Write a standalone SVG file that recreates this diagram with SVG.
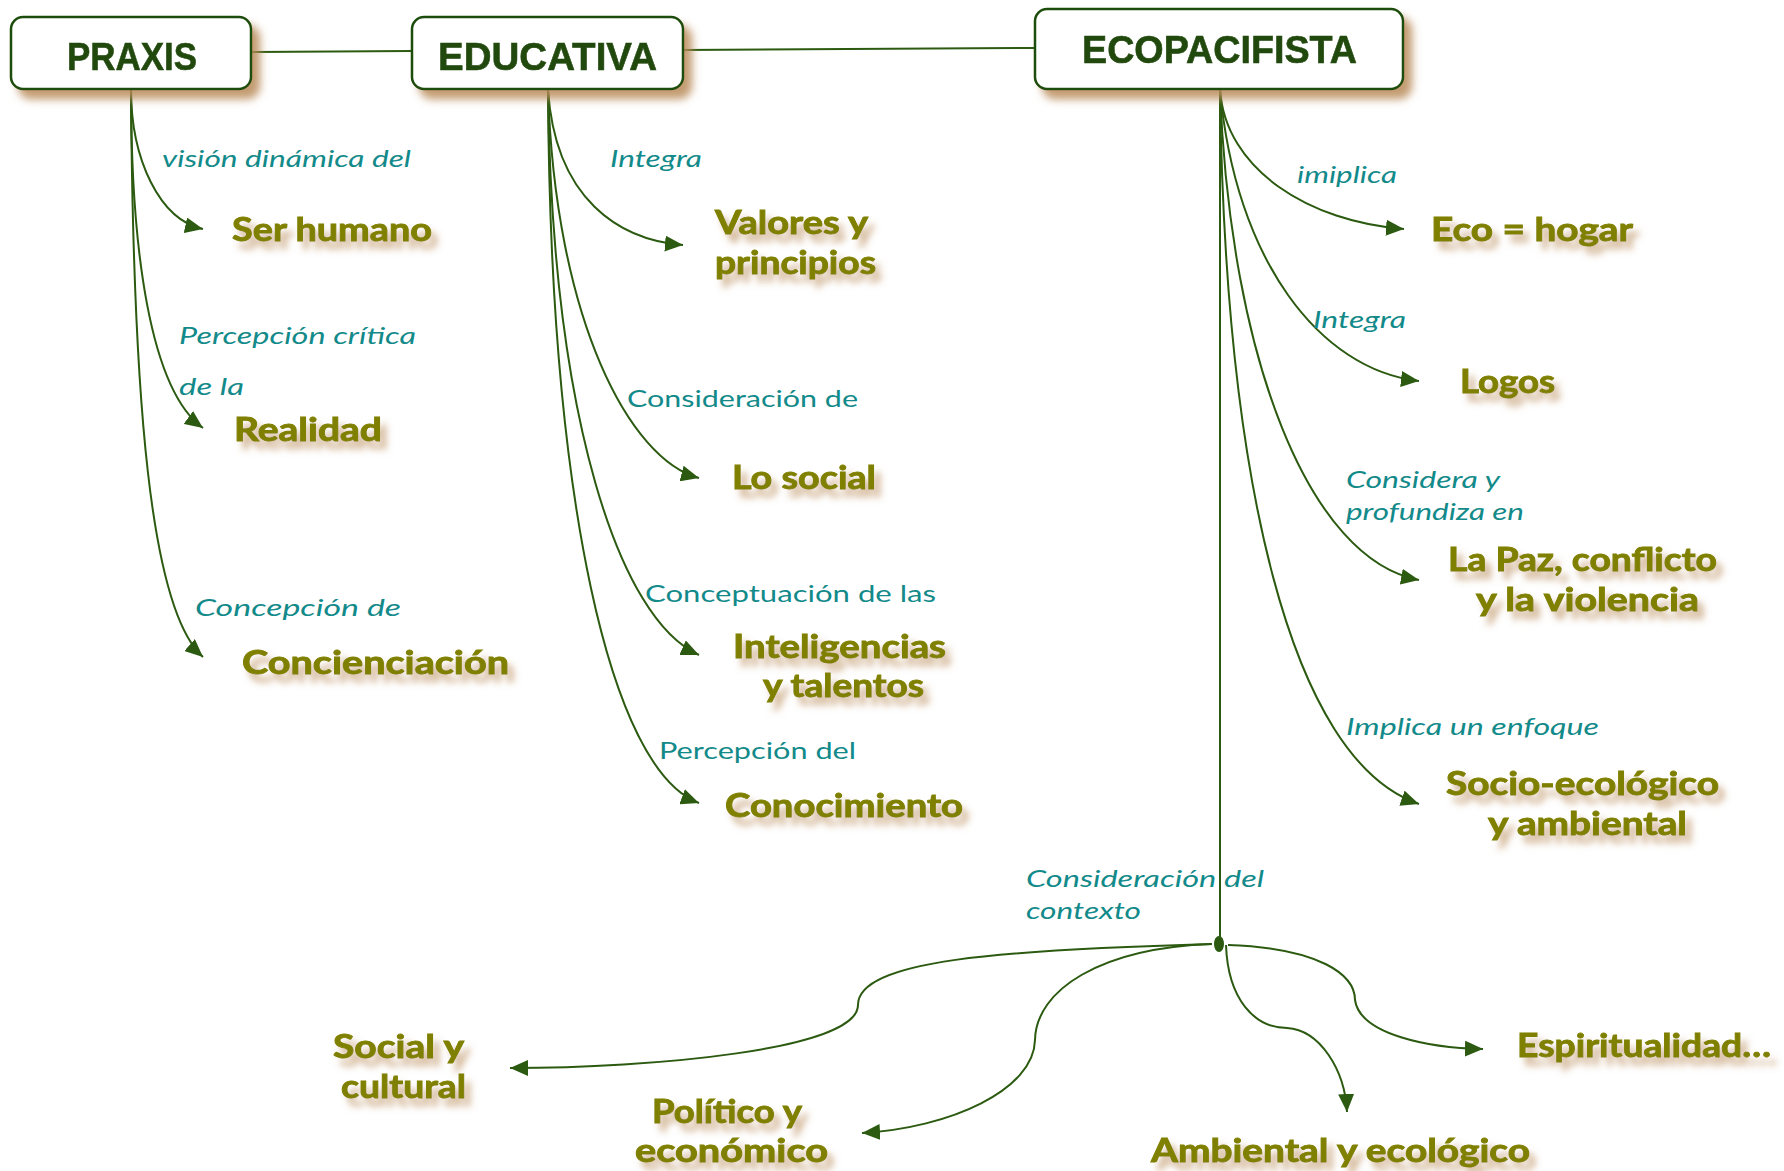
<svg xmlns="http://www.w3.org/2000/svg" width="1784" height="1171" viewBox="0 0 1784 1171">
<defs>
  <filter id="boxShadow" x="-10%" y="-20%" width="130%" height="160%">
    <feGaussianBlur in="SourceAlpha" stdDeviation="4" result="b"/>
    <feOffset in="b" dx="8" dy="9" result="o"/>
    <feFlood flood-color="#b88a58" flood-opacity="0.85"/>
    <feComposite in2="o" operator="in" result="s"/>
    <feMerge><feMergeNode in="s"/><feMergeNode in="SourceGraphic"/></feMerge>
  </filter>
  <filter id="textShadow" x="-10%" y="-30%" width="130%" height="190%">
    <feGaussianBlur in="SourceAlpha" stdDeviation="3.5" result="b"/>
    <feOffset in="b" dx="6" dy="8" result="o"/>
    <feFlood flood-color="#c29a6e" flood-opacity="0.75"/>
    <feComposite in2="o" operator="in" result="s"/>
    <feMerge><feMergeNode in="s"/><feMergeNode in="SourceGraphic"/></feMerge>
  </filter>
  <marker id="arrow" viewBox="0 0 18 16" refX="18" refY="8" markerWidth="18" markerHeight="16" markerUnits="userSpaceOnUse" orient="auto">
    <path d="M0,0 L18,8 L0,16 Z" fill="#2b5a10"/>
  </marker>
</defs>
<style>
  .box { fill: #ffffff; stroke: #1f4d0c; stroke-width: 2.5; }
  .title { font-family: "Liberation Sans", Arial, sans-serif; font-weight: bold; font-size: 39px; fill: #234a10; stroke: #234a10; stroke-width: 0.6; }
  .target { font-family: "Lato", "Liberation Sans", sans-serif; font-weight: bold; font-size: 32px; fill: #808000; stroke: #808000; stroke-width: 0.9; }
  .label { font-family: "Lato", "Liberation Sans", sans-serif; font-size: 24px; fill: #138a8a; font-style: italic; }
  .upright { font-style: normal; }
  .conn { fill: none; stroke: #2b5a10; stroke-width: 2; }
  .arr { marker-end: url(#arrow); }
</style>

<g id="connectors">
  <path class="conn" d="M251 52 L412 51"/>
  <path class="conn" d="M683 50 L1035 48"/>
  <!-- PRAXIS -->
  <path class="conn arr" d="M131 89 C131 160 160 220 203 229"/>
  <path class="conn arr" d="M131 89 C131 250 150 390 203 428"/>
  <path class="conn arr" d="M131 89 C133 400 150 610 203 657"/>
  <!-- EDUCATIVA -->
  <path class="conn arr" d="M548 89 C555 200 620 240 683 245"/>
  <path class="conn arr" d="M548 89 C555 320 630 460 699 478"/>
  <path class="conn arr" d="M548 89 C552 420 620 620 699 655"/>
  <path class="conn arr" d="M548 89 C550 500 610 770 699 803"/>
  <!-- ECOPACIFISTA -->
  <path class="conn arr" d="M1220 89 C1225 170 1310 222 1404 229"/>
  <path class="conn arr" d="M1220 89 C1235 260 1320 370 1419 381"/>
  <path class="conn arr" d="M1220 89 C1230 360 1310 560 1419 580"/>
  <path class="conn arr" d="M1220 89 C1225 480 1290 760 1419 804"/>
  <path class="conn" d="M1220 89 L1220 944"/>
  <ellipse cx="1219" cy="944" rx="5" ry="8" fill="#2b5a10"/>
  <!-- context -->
  <path class="conn arr" d="M1212 944 C1000 950 858 960 858 1005 C858 1050 650 1068 510 1068"/>
  <path class="conn arr" d="M1212 944 C1100 948 1036 990 1035 1040 C1034 1090 950 1128 862 1133"/>
  <path class="conn arr" d="M1226 945 C1228 1000 1255 1028 1287 1028 C1320 1030 1345 1070 1347 1112"/>
  <path class="conn arr" d="M1228 945 C1320 948 1355 975 1355 1000 C1360 1035 1430 1048 1483 1049"/>
</g>

<g id="praxis" filter="url(#boxShadow)">
  <rect class="box" x="11" y="17" width="240" height="72" rx="12"/>
  <text class="title" x="67" y="70" textLength="130" lengthAdjust="spacingAndGlyphs">PRAXIS</text>
</g>
<g id="educativa" filter="url(#boxShadow)">
  <rect class="box" x="412" y="17" width="271" height="72" rx="12"/>
  <text class="title" x="438" y="70" textLength="219" lengthAdjust="spacingAndGlyphs">EDUCATIVA</text>
</g>
<g id="ecopacifista" filter="url(#boxShadow)">
  <rect class="box" x="1035" y="9" width="368" height="80" rx="12"/>
  <text class="title" x="1082" y="63" textLength="275" lengthAdjust="spacingAndGlyphs">ECOPACIFISTA</text>
</g>

<g id="labels">
  <text class="label" x="162" y="167" textLength="249" lengthAdjust="spacingAndGlyphs">visión dinámica del</text>
  <text class="label" x="179" y="344" textLength="237" lengthAdjust="spacingAndGlyphs">Percepción crítica</text>
  <text class="label" x="179" y="395" textLength="65" lengthAdjust="spacingAndGlyphs">de la</text>
  <text class="label" x="195" y="616" textLength="206" lengthAdjust="spacingAndGlyphs">Concepción de</text>
  <text class="label" x="610" y="167" textLength="92" lengthAdjust="spacingAndGlyphs">Integra</text>
  <text class="label upright" x="627" y="407" textLength="231" lengthAdjust="spacingAndGlyphs">Consideración de</text>
  <text class="label upright" x="645" y="602" textLength="291" lengthAdjust="spacingAndGlyphs">Conceptuación de las</text>
  <text class="label upright" x="659" y="759" textLength="197" lengthAdjust="spacingAndGlyphs">Percepción del</text>
  <text class="label" x="1297" y="183" textLength="100" lengthAdjust="spacingAndGlyphs">imiplica</text>
  <text class="label" x="1313" y="328" textLength="93" lengthAdjust="spacingAndGlyphs">Integra</text>
  <text class="label" x="1346" y="488" textLength="154" lengthAdjust="spacingAndGlyphs">Considera y</text>
  <text class="label" x="1346" y="520" textLength="178" lengthAdjust="spacingAndGlyphs">profundiza en</text>
  <text class="label" x="1346" y="735" textLength="253" lengthAdjust="spacingAndGlyphs">Implica un enfoque</text>
  <text class="label" x="1026" y="887" textLength="238" lengthAdjust="spacingAndGlyphs">Consideración del</text>
  <text class="label" x="1026" y="919" textLength="115" lengthAdjust="spacingAndGlyphs">contexto</text>
</g>

<g id="ser-humano" filter="url(#textShadow)"><text class="target" x="232" y="241" textLength="200" lengthAdjust="spacingAndGlyphs">Ser humano</text></g>
<g id="realidad" filter="url(#textShadow)"><text class="target" x="234" y="441" textLength="148" lengthAdjust="spacingAndGlyphs">Realidad</text></g>
<g id="concienciacion" filter="url(#textShadow)"><text class="target" x="242" y="674" textLength="267" lengthAdjust="spacingAndGlyphs">Concienciación</text></g>
<g id="valores" filter="url(#textShadow)">
  <text class="target" x="715" y="234" textLength="153" lengthAdjust="spacingAndGlyphs">Valores y</text>
  <text class="target" x="715" y="274" textLength="161" lengthAdjust="spacingAndGlyphs">principios</text>
</g>
<g id="lo-social" filter="url(#textShadow)"><text class="target" x="732" y="489" textLength="144" lengthAdjust="spacingAndGlyphs">Lo social</text></g>
<g id="inteligencias" filter="url(#textShadow)">
  <text class="target" x="733" y="658" textLength="213" lengthAdjust="spacingAndGlyphs">Inteligencias</text>
  <text class="target" x="763" y="697" textLength="161" lengthAdjust="spacingAndGlyphs">y talentos</text>
</g>
<g id="conocimiento" filter="url(#textShadow)"><text class="target" x="725" y="817" textLength="238" lengthAdjust="spacingAndGlyphs">Conocimiento</text></g>
<g id="eco-hogar" filter="url(#textShadow)"><text class="target" x="1431" y="241" textLength="202" lengthAdjust="spacingAndGlyphs">Eco = hogar</text></g>
<g id="logos" filter="url(#textShadow)"><text class="target" x="1460" y="393" textLength="95" lengthAdjust="spacingAndGlyphs">Logos</text></g>
<g id="la-paz" filter="url(#textShadow)">
  <text class="target" x="1448" y="571" textLength="269" lengthAdjust="spacingAndGlyphs">La Paz, conflicto</text>
  <text class="target" x="1476" y="611" textLength="223" lengthAdjust="spacingAndGlyphs">y la violencia</text>
</g>
<g id="socio-ecologico" filter="url(#textShadow)">
  <text class="target" x="1446" y="795" textLength="273" lengthAdjust="spacingAndGlyphs">Socio-ecológico</text>
  <text class="target" x="1488" y="835" textLength="199" lengthAdjust="spacingAndGlyphs">y ambiental</text>
</g>
<g id="social-cultural" filter="url(#textShadow)">
  <text class="target" x="333" y="1058" textLength="131" lengthAdjust="spacingAndGlyphs">Social y</text>
  <text class="target" x="341" y="1098" textLength="125" lengthAdjust="spacingAndGlyphs">cultural</text>
</g>
<g id="politico" filter="url(#textShadow)">
  <text class="target" x="652" y="1123" textLength="150" lengthAdjust="spacingAndGlyphs">Político y</text>
  <text class="target" x="635" y="1162" textLength="193" lengthAdjust="spacingAndGlyphs">económico</text>
</g>
<g id="ambiental" filter="url(#textShadow)"><text class="target" x="1151" y="1162" textLength="379" lengthAdjust="spacingAndGlyphs">Ambiental y ecológico</text></g>
<g id="espiritualidad" filter="url(#textShadow)"><text class="target" x="1517" y="1057" textLength="254" lengthAdjust="spacingAndGlyphs">Espiritualidad…</text></g>
</svg>
